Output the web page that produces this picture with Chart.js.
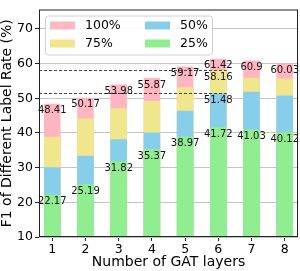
<!DOCTYPE html>
<html>
<head>
<meta charset="utf-8">
<script src="https://cdn.jsdelivr.net/npm/chart.js"></script>
<style>
  body { margin: 0; background: #fff; }
  canvas { display: block; }
</style>
</head>
<body>
<canvas id="chart" width="300" height="271"></canvas>
<script>
const layers = [1, 2, 3, 4, 5, 6, 7, 8];
const yTicks = [10, 20, 30, 40, 50, 60, 70];

// F1 per label rate
const rate25 = [22.17, 25.19, 31.82, 35.37, 38.97, 41.72, 41.03, 40.12];
const rate50 = [30.1, 33.4, 38.2, 40.1, 46.4, 51.48, 51.9, 50.8];
const rate75 = [38.9, 44.2, 47.1, 49.2, 53.2, 58.16, 55.9, 55.7];
const rate100 = [48.41, 50.17, 53.98, 55.87, 59.17, 61.42, 60.9, 60.03];

const bestLayer = 6;

const FONT = "'DejaVu Sans', sans-serif";

// dataset 0 is painted last, so the shortest series goes first
const datasets = [
    { label: '25%', data: rate25, backgroundColor: '#90ee90', showValue: true },
    { label: '50%', data: rate50, backgroundColor: '#87ceeb', showValue: false },
    { label: '75%', data: rate75, backgroundColor: '#f0e68c', showValue: false },
    { label: '100%', data: rate100, backgroundColor: '#ffb6c1', showValue: true }
];

const overlayPlugin = {
    id: 'overlay',
    afterDatasetsDraw(chart) {
        const ctx = chart.ctx;
        const area = chart.chartArea;
        const bestIdx = layers.indexOf(bestLayer);

        // dashed reference lines for the best layer (75% and 50%)
        ctx.save();
        ctx.strokeStyle = '#444';
        ctx.lineWidth = 1;
        ctx.setLineDash([3, 2]);
        [1, 2].forEach(di => {
            const bar = chart.getDatasetMeta(di).data[bestIdx];
            const y = Math.round(bar.y) + 0.5;
            ctx.beginPath();
            ctx.moveTo(area.left, y);
            ctx.lineTo(bar.x + bar.width / 2, y);
            ctx.stroke();
        });
        ctx.restore();

        // value labels
        ctx.save();
        ctx.font = '10px ' + FONT;
        ctx.fillStyle = '#111';
        ctx.textAlign = 'center';
        ctx.textBaseline = 'top';
        chart.data.datasets.forEach((ds, di) => {
            const meta = chart.getDatasetMeta(di);
            meta.data.forEach((bar, i) => {
                if (ds.showValue || i === bestIdx) {
                    ctx.fillText(String(ds.data[i]), bar.x, bar.y + 2);
                }
            });
        });
        ctx.restore();
    },
    afterDraw(chart) {
        const ctx = chart.ctx;
        const area = chart.chartArea;

        // axes frame
        ctx.save();
        ctx.strokeStyle = '#222';
        ctx.lineWidth = 1;
        ctx.strokeRect(area.left + 0.5, area.top + 0.5, area.width - 1, area.height - 1);
        ctx.restore();

        // legend inside the plot, two columns (100%, 75% | 50%, 25%)
        const order = chart.data.datasets.slice().reverse();
        const boxX = area.left + 6, boxY = area.top + 6, boxW = 167, boxH = 39;
        ctx.save();
        ctx.fillStyle = 'rgba(255,255,255,0.85)';
        ctx.strokeStyle = '#d0d0d0';
        ctx.lineWidth = 1;
        ctx.beginPath();
        ctx.roundRect(boxX + 0.5, boxY + 0.5, boxW, boxH, 3);
        ctx.fill();
        ctx.stroke();
        ctx.font = '12.5px ' + FONT;
        ctx.textBaseline = 'middle';
        ctx.textAlign = 'left';
        order.forEach((ds, k) => {
            const col = Math.floor(k / 2), row = k % 2;
            const sx = boxX + 5 + col * 95;
            const sy = boxY + 10 + row * 18;
            ctx.fillStyle = ds.backgroundColor;
            ctx.fillRect(sx, sy - 4, 25, 8);
            ctx.fillStyle = '#000';
            ctx.fillText(ds.label, sx + 35, sy + 0.5);
        });
        ctx.restore();
    }
};

new Chart(document.getElementById('chart'), {
    type: 'bar',
    data: {
        labels: layers,
        datasets: datasets.map(d => Object.assign({ grouped: false, borderWidth: 0 }, d))
    },
    options: {
        responsive: false,
        animation: false,
        devicePixelRatio: 1,
        barPercentage: 0.5,
        categoryPercentage: 1,
        layout: { padding: { top: 2, right: 2, left: 0, bottom: 0 } },
        plugins: {
            legend: { display: false },
            tooltip: { enabled: false }
        },
        scales: {
            x: {
                type: 'linear',
                min: 0.6,
                max: 8.4,
                offset: false,
                afterBuildTicks: scale => { scale.ticks = layers.map(v => ({ value: v })); },
                afterFit: scale => { scale.height = 34; },
                grid: { display: true, drawOnChartArea: false, offset: false, tickLength: 4, tickColor: '#222' },
                border: { display: false },
                ticks: { color: '#000', padding: 1, font: { family: FONT, size: 12.5 } },
                title: {
                    display: true,
                    text: 'Number of GAT layers',
                    color: '#000',
                    padding: 0,
                    font: { family: FONT, size: 14 }
                }
            },
            y: {
                min: 10,
                max: 75.6,
                afterBuildTicks: scale => { scale.ticks = yTicks.map(v => ({ value: v })); },
                afterFit: scale => { scale.width = 39; },
                grid: { color: '#c4c4c4', lineWidth: 1, tickLength: 4, tickColor: '#222' },
                border: { display: false },
                ticks: { color: '#000', padding: 2, font: { family: FONT, size: 12.5 } },
                title: {
                    display: true,
                    text: 'F1 of Different Label Rate (%)',
                    color: '#000',
                    padding: 0,
                    font: { family: FONT, size: 14, lineHeight: 1 }
                }
            }
        }
    },
    plugins: [overlayPlugin]
});
</script>
</body>
</html>
